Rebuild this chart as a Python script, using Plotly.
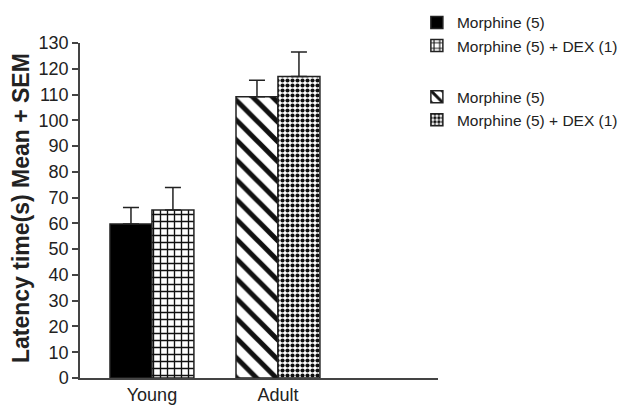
import plotly.graph_objects as go

categories = ["Young", "Adult"]
cat_pos = [0, 1]
series_names = ["Morphine (5)", "Morphine (5) + DEX (1)", "Morphine (5)", "Morphine (5) + DEX (1)"]
means = [59.8, 65.2, 109.1, 117.0]
sems = [6.4, 8.7, 6.4, 9.5]
bar_cat = [0, 0, 1, 1]
y_ticks = list(range(0, 131, 10))
y_title = "Latency time(s) Mean + SEM"

patterns = [
    dict(shape=""),
    dict(shape="+", size=7, solidity=0.35, fgcolor="#111", bgcolor="white", fgopacity=1, fillmode="replace"),
    dict(shape="\\", size=14, solidity=0.36, fgcolor="#111", bgcolor="white", fgopacity=1, fillmode="replace"),
    dict(shape=".", size=5, solidity=0.55, fgcolor="#111", bgcolor="white", fgopacity=1, fillmode="replace"),
]
colors = ["#000000", "white", "white", "white"]
offsets = [-0.333, 0.0, -0.333, 0.0]
groups = ["young", "young", "adult", "adult"]

fig = go.Figure()
for i in range(4):
    fig.add_trace(go.Bar(
        x=[cat_pos[bar_cat[i]]], y=[means[i]],
        name=series_names[i],
        width=0.333, offset=offsets[i],
        marker=dict(color=colors[i], pattern=patterns[i], line=dict(color="#222", width=1.5)),
        error_y=dict(type="data", array=[sems[i]], arrayminus=[0], symmetric=False,
                     color="#222", thickness=1.5, width=8),
        legendgroup=groups[i],
    ))

fig.add_annotation(text="<b>" + y_title + "</b>", textangle=-90,
                   xref="paper", yref="paper", x=-0.165, y=0.507,
                   xanchor="center", yanchor="middle", showarrow=False,
                   font=dict(size=23, color="#222"))

fig.update_layout(
    width=624, height=405,
    margin=dict(l=80, r=186, t=43, b=27, autoexpand=False),
    plot_bgcolor="white", paper_bgcolor="white",
    barmode="overlay",
    font=dict(family="Liberation Sans, Arial, sans-serif", color="#222"),
    showlegend=True,
    legend=dict(x=0.941, y=1.111,
                xanchor="left", yanchor="top",
                traceorder="grouped", tracegroupgap=28,
                font=dict(size=15.5, color="#222"), bgcolor="rgba(0,0,0,0)"),
    xaxis=dict(range=[-0.571, 2.27], tickvals=cat_pos, ticktext=categories,
               showline=True, linecolor="#444", linewidth=1.5, ticks="",
               showgrid=False, zeroline=False, tickfont=dict(size=18), automargin=False),
    yaxis=dict(range=[0, 130], tickvals=y_ticks, showline=True, linecolor="#444",
               linewidth=1.5, ticks="outside", ticklen=6, tickcolor="#444", tickwidth=1.5,
               showgrid=False, zeroline=False, tickfont=dict(size=18), automargin=False),
)

fig.write_html("out.html", config={"displayModeBar": False},
               post_script="document.body.style.margin='0px';document.body.style.padding='0px';")
